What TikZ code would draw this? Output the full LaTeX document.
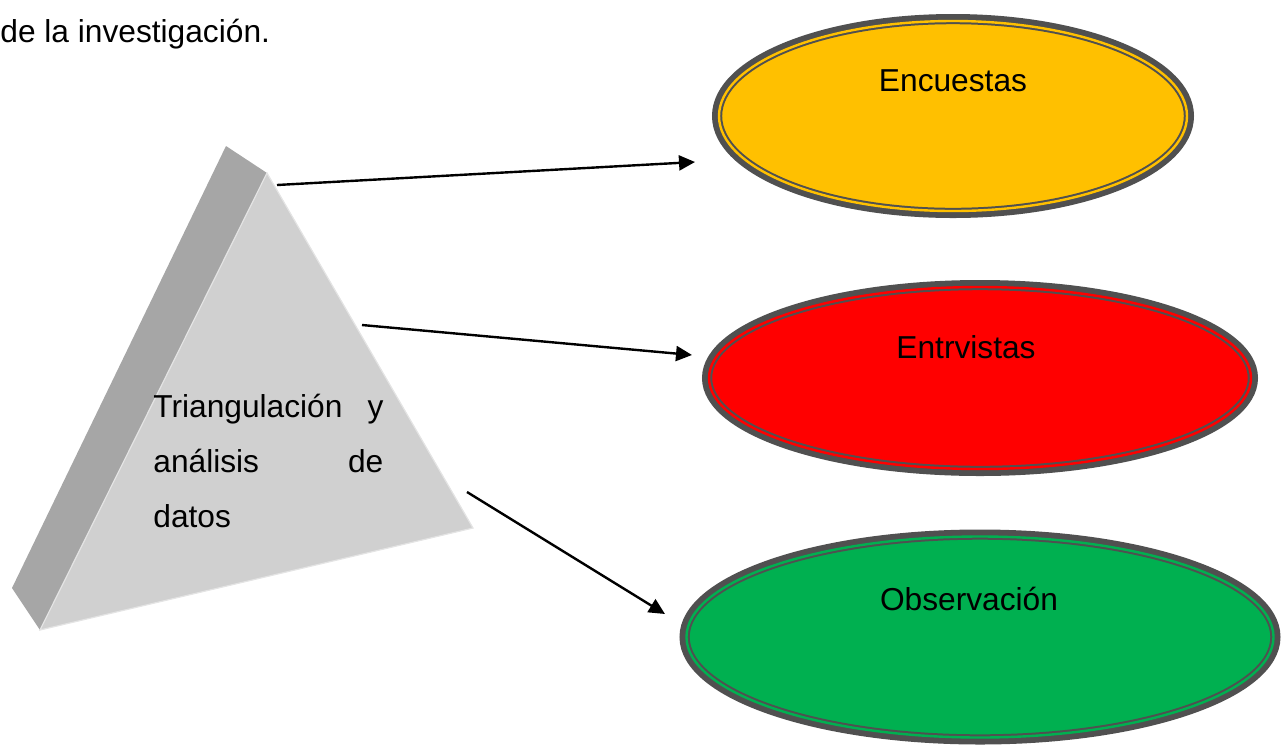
\documentclass[tikz,border=0pt]{standalone}
\usepackage{fontspec}
\setmainfont{Liberation Sans}
\usetikzlibrary{arrows.meta,shapes.geometric}
\definecolor{ringgray}{HTML}{505050}
\definecolor{encyellow}{HTML}{FFC000}
\definecolor{entred}{HTML}{FF0000}
\definecolor{obsgreen}{HTML}{00B050}
\definecolor{prismfront}{HTML}{D0D0D0}
\definecolor{prismside}{HTML}{A6A6A6}
\definecolor{prismedge}{HTML}{E4E4E4}
\tikzset{
  bubble/.style={ellipse,inner sep=0pt,fill=#1,draw=ringgray,line width=1pt,
    double=#1,double distance=1.2pt,preaction={draw=ringgray,line width=7pt}},
  bubbletext/.style={anchor=base,inner sep=0pt,font=\fontsize{15.85}{19}\selectfont},
  link/.style={-{Triangle[length=8pt,width=7.5pt]},line width=1.2pt,black},
}

\begin{document}
\begin{tikzpicture}[x=0.5pt,y=-0.5pt]
\useasboundingbox (0,0) rectangle (1281,746);
% \draw[help lines,step=100] (0,0) grid (1281,746);
\node (intro) [anchor=base west,inner sep=0pt,font=\fontsize{15.85}{19}\selectfont] at (0,42) {de la investigación.};
%
\fill[prismside] (226,146) -- (267,173) -- (40,630) -- (12,588) -- cycle;
\filldraw[fill=prismfront,draw=prismedge,line width=0.6pt] (267,173) -- (473,528) -- (40,630) -- cycle;
\node (tri) [anchor=north west,inner sep=0pt,align=left,font=\fontsize{15.85}{27.5}\selectfont] at (153,394)
  {\makebox[115pt][s]{Triangulación y}\\ \makebox[115pt][s]{análisis de}\\ datos};
%
\node (enc) [bubble=encyellow,minimum width=234pt,minimum height=95pt] at (953,116) {};
\node (ent) [bubble=entred,minimum width=271pt,minimum height=91pt] at (980,378) {};
\node (obs) [bubble=obsgreen,minimum width=293.5pt,minimum height=100.5pt] at (980,637) {};
\node (encT) [bubbletext] at ([yshift=12.5pt]enc.center) {Encuestas};
\node (entT) [bubbletext] at ([xshift=-7pt,yshift=10pt]ent.center) {Entrvistas};
\node (obsT) [bubbletext] at ([xshift=-5.5pt,yshift=13.5pt]obs.center) {Observación};
%
\coordinate (s1) at (277,185);
\coordinate (s2) at (362,325);
\coordinate (s3) at (467,492);
\coordinate (e1) at (695,162);
\coordinate (e2) at (692,355);
\coordinate (e3) at (665,614);
\draw[link] (s1) -- (e1);
\draw[link] (s2) -- (e2);
\draw[link] (s3) -- (e3);
\end{tikzpicture}
\end{document}
